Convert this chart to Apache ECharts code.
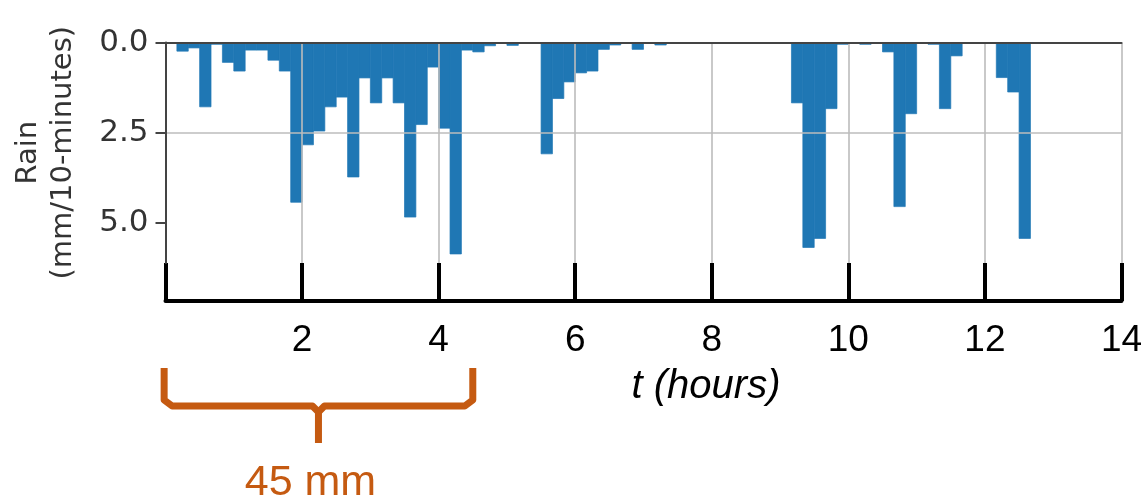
<!DOCTYPE html>
<html>
<head>
<meta charset="utf-8">
<script src="https://cdn.jsdelivr.net/npm/echarts@6/dist/echarts.min.js"></script>
<style>
html,body{margin:0;padding:0;background:#fff;}
#chart{width:1148px;height:502px;}
</style>
</head>
<body>
<div id="chart"></div>
<script>
// Rain per 10-minute bin (mm/10-minutes), bin i spans [i*10, (i+1)*10) minutes
const rain = [
  0, 0.24, 0.15, 1.78, 0.05, 0.55, 0.79, 0.21, 0.21, 0.49, 0.79, 4.42,
  2.83, 2.45, 1.78, 1.51, 3.72, 0.98, 1.67, 0.98, 1.67, 4.83, 2.27, 0.68,
  2.37, 5.85, 0.21, 0.26, 0.09, 0, 0.08, 0, 0, 3.08, 1.55, 1.09,
  0.84, 0.79, 0.19, 0.07, 0.02, 0.19, 0, 0.07, 0, 0, 0, 0,
  0, 0, 0, 0, 0, 0, 0, 1.67, 5.67, 5.42, 1.83, 0.05,
  0, 0.05, 0, 0.26, 4.54, 1.97, 0, 0.05, 1.83, 0.37, 0, 0,
  0, 0.97, 1.37, 5.42, 0, 0, 0, 0, 0, 0, 0, 0
];
const binHours = 10 / 60;
const yTicks = [0, 2.5, 5];
const xTickLabels = ['', '2', '4', '6', '8', '10', '12', '14'];
const yTitle = 'Rain\n(mm/10-minutes)';
const xTitle = 't (hours)';
const braceText = '45 mm';
const braceHours = [-0.02, 4.5];

const barData = rain.map((v, i) => [i * binHours, v]);

const chart = echarts.init(document.getElementById('chart'), null, {renderer: 'canvas'});

const option = {
  animation: false,
  backgroundColor: '#fff',
  grid: [
    {left: 165.5, right: 26.5, top: 42.5, height: 220.5},
    {left: 165.5, right: 26.5, top: 263, height: 38}
  ],
  xAxis: [
    {
      gridIndex: 0, type: 'value', min: 0, max: 14, interval: 2,
      position: 'top', z: 5,
      axisLine: {show: true, onZero: false, lineStyle: {color: '#444', width: 2}},
      axisTick: {show: false},
      axisLabel: {show: false},
      splitLine: {show: true, lineStyle: {color: '#bcbcbc', width: 1.6}}
    },
    {
      gridIndex: 1, type: 'value', min: 0, max: 14, interval: 2,
      position: 'bottom', z: 5,
      axisLine: {show: true, onZero: false, lineStyle: {color: '#000', width: 4}},
      axisTick: {show: false},
      axisLabel: {
        show: true, margin: 21, color: '#000', fontSize: 37,
        fontFamily: 'Liberation Sans',
        formatter: v => xTickLabels[Math.round(v / 2)] || ''
      },
      splitLine: {show: true, showMinLine: true, showMaxLine: true,
        lineStyle: {color: '#000', width: 4}}
    }
  ],
  yAxis: [
    {
      gridIndex: 0, type: 'value', min: 0, max: 6.1, interval: 2.5,
      inverse: true, z: 5,
      axisLine: {show: true, lineStyle: {color: '#444', width: 2}},
      axisTick: {show: true, length: 10, customValues: yTicks,
        lineStyle: {color: '#444', width: 2}},
      axisLabel: {
        show: true, margin: 17, color: '#333', fontSize: 31,
        fontFamily: 'DejaVu Sans', customValues: yTicks,
        formatter: v => v.toFixed(1)
      },
      splitLine: {show: true, showMaxLine: false,
        lineStyle: {color: '#bcbcbc', width: 1.6}},
      name: yTitle,
      nameLocation: 'middle',
      nameRotate: 90,
      nameGap: 85,
      nameTextStyle: {color: '#333', fontSize: 29, lineHeight: 35,
        fontFamily: 'DejaVu Sans'}
    },
    {
      gridIndex: 1, type: 'value', min: 0, max: 1, show: false
    }
  ],
  series: [
    {
      type: 'custom',
      xAxisIndex: 0, yAxisIndex: 0,
      z: 1,
      data: barData,
      renderItem: function (params, api) {
        const t = api.value(0);
        const v = api.value(1);
        if (!v) return null;
        const p0 = api.coord([t, 0]);
        const p1 = api.coord([t + binHours, v]);
        return {
          type: 'rect',
          shape: {x: p0[0], y: p0[1], width: p1[0] - p0[0], height: p1[1] - p0[1]},
          style: {fill: '#1f77b4', stroke: '#1f77b4', lineWidth: 0.7}
        };
      }
    }
  ]
};
chart.setOption(option);

const xl = chart.convertToPixel({xAxisIndex: 0}, braceHours[0]);
const xr = chart.convertToPixel({xAxisIndex: 0}, braceHours[1]);
const xm = (xl + xr) / 2;
const yTop = 368, yBar = 406, yTip = 443;
const braceStyle = {fill: null, stroke: '#C55A11', lineWidth: 7, lineJoin: 'round', lineCap: 'butt'};

chart.setOption({
  graphic: [
    {
      type: 'polyline',
      shape: {points: [[xl, yTop], [xl, yBar - 6], [xl + 8, yBar], [xm - 6, yBar], [xm, yBar + 6], [xm, yTip]]},
      style: braceStyle
    },
    {
      type: 'polyline',
      shape: {points: [[xr, yTop], [xr, yBar - 6], [xr - 8, yBar], [xm + 6, yBar], [xm, yBar + 6]]},
      style: braceStyle
    },
    {
      type: 'text',
      x: xm - 8, y: 483.5,
      style: {text: braceText, fill: '#C55A11', fontSize: 43,
        fontFamily: 'Liberation Sans', align: 'center', verticalAlign: 'middle'}
    },
    {
      type: 'text',
      x: 706, y: 387,
      style: {text: xTitle, fill: '#000', fontSize: 40, fontStyle: 'italic',
        fontFamily: 'Liberation Sans', align: 'center', verticalAlign: 'middle'}
    }
  ]
});
</script>
</body>
</html>
